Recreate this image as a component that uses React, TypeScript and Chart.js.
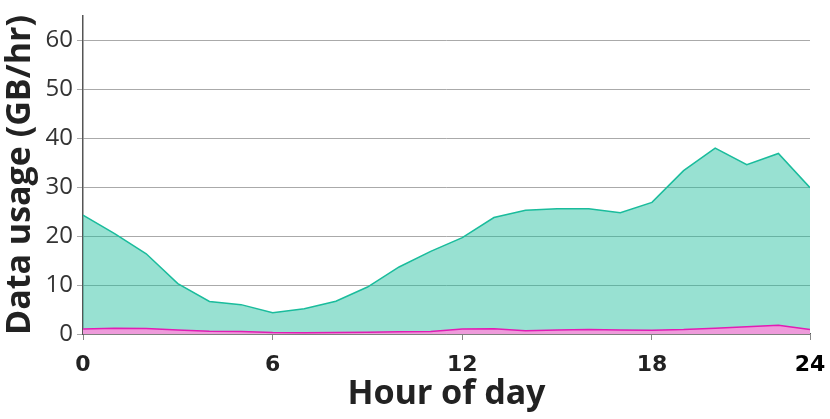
import React, { useEffect, useRef } from "react";
import { Chart, registerables } from "chart.js";

Chart.register(...registerables);

const hours = [0, 1, 2, 3, 4, 5, 6, 7, 8, 9, 10, 11, 12, 13, 14, 15, 16, 17, 18, 19, 20, 21, 22, 23];
const totalUsage = [24.3, 20.5, 16.4, 10.3, 6.65, 6.0, 4.35, 5.15, 6.7, 9.6, 13.7, 16.9, 19.7, 23.8, 25.3, 25.6, 25.6, 24.8, 26.9, 33.4, 38.0, 34.6, 36.9, 29.9];
const minorUsage = [1.0, 1.2, 1.1, 0.8, 0.55, 0.5, 0.3, 0.25, 0.3, 0.35, 0.45, 0.5, 1.0, 1.05, 0.65, 0.8, 0.9, 0.8, 0.75, 0.9, 1.2, 1.5, 1.8, 0.9];
const xTickValues = [0, 6, 12, 18, 23];
const xTickLabels = ["0", "6", "12", "18", "24"];
const yTickValues = [0, 10, 20, 30, 40, 50, 60];

export default function App() {
  const ref = useRef<HTMLCanvasElement | null>(null);
  useEffect(() => {
    if (!ref.current) return;
    const chart = new Chart(ref.current, {
      type: "line",
      data: {
        datasets: [
          {
            data: hours.map((h, i) => ({ x: h, y: minorUsage[i] })),
            borderColor: "#e21cb4",
            backgroundColor: "#ee9bdb",
            borderWidth: 1.5,
            pointRadius: 0,
            fill: "origin",
            tension: 0,
          },
          {
            data: hours.map((h, i) => ({ x: h, y: totalUsage[i] })),
            borderColor: "#1abc9c",
            backgroundColor: "rgba(26,188,156,0.45)",
            borderWidth: 1.5,
            pointRadius: 0,
            fill: "origin",
            tension: 0,
          },
        ],
      },
      options: {
        animation: false,
        responsive: true,
        maintainAspectRatio: false,
        layout: { padding: { top: 16, right: 20, left: 0, bottom: 0 } },
        plugins: { legend: { display: false }, tooltip: { enabled: false } },
        scales: {
          x: {
            type: "linear",
            min: 0,
            max: 23,
            afterBuildTicks: (axis: any) => {
              axis.ticks = xTickValues.map((v) => ({ value: v }));
            },
            afterFit: (scale: any) => {
              scale.height = 85;
              scale.paddingLeft = 0;
              scale.paddingRight = 0;
            },
            ticks: {
              autoSkip: false,
              maxRotation: 0,
              padding: 12,
              callback: (v: any) => {
                const i = xTickValues.indexOf(Number(v));
                return i >= 0 ? xTickLabels[i] : "";
              },
              color: (ctx: any) => (ctx.tick && ctx.tick.value === 23 ? "#000" : "#222"),
              font: { family: "'DejaVu Sans', sans-serif", size: 22, weight: "bold" },
            },
            grid: { drawOnChartArea: false, drawTicks: true, tickLength: 6, color: "#888" },
            border: { display: true, color: "#555", width: 1.5 },
            title: {
              display: true,
              text: "Hour of day",
              color: "#222",
              font: { family: "'Noto Sans', sans-serif", size: 34, weight: "bold" },
              padding: { top: 0, bottom: 4 },
            },
          },
          y: {
            type: "linear",
            min: 0,
            max: 65,
            afterBuildTicks: (axis: any) => {
              axis.ticks = yTickValues.map((v) => ({ value: v }));
            },
            afterFit: (scale: any) => {
              scale.width = 83;
              scale.paddingTop = 0;
              scale.paddingBottom = 0;
            },
            ticks: {
              padding: 4,
              color: "#333",
              font: { family: "'Open Sans', sans-serif", size: 24 },
            },
            grid: { color: "#aaa", lineWidth: 1, tickLength: 6, drawTicks: true },
            border: { display: true, color: "#555", width: 1.5 },
            title: {
              display: true,
              text: "Data usage (GB/hr)",
              color: "#222",
              font: { family: "'Open Sans', sans-serif", size: 34, weight: "bold" },
              padding: { top: 0, bottom: 0 },
            },
          },
        },
      },
    });
    return () => chart.destroy();
  }, []);
  return (
    <div style={{ position: "fixed", left: 0, top: 0, width: 830, height: 419 }}>
      <canvas ref={ref} />
    </div>
  );
}
